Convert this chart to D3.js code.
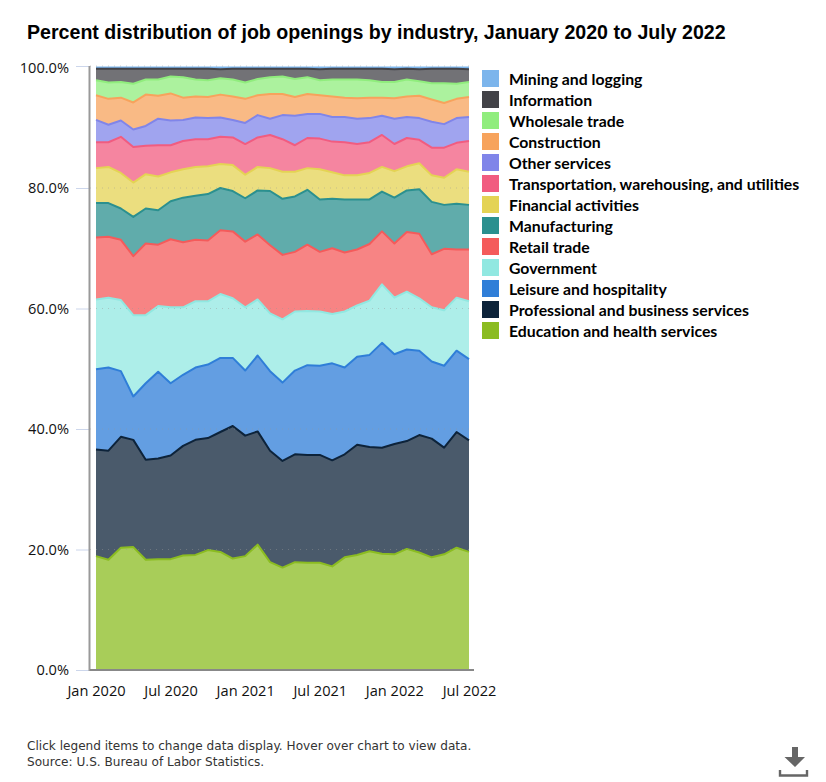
<!DOCTYPE html>
<html>
<head>
<meta charset="utf-8">
<title>Percent distribution of job openings by industry</title>
<script src="https://cdn.jsdelivr.net/npm/d3@7"></script>
<style type="text/css">
html, body{
	margin:0;
	background:#fff;
}
svg{
	display:block;
}
.title{
	font-family:"Liberation Sans", sans-serif;
	font-weight:bold;
	font-size:19.6px;
	fill:#000;
}
.tick text{
	font-family:"Open Sans", sans-serif;
	font-size:14.6px;
	fill:#111;
}
.legend text{
	font-family:Lato, sans-serif;
	font-weight:bold;
	font-size:15.8px;
	fill:#000;
}
.note{
	font-family:"DejaVu Sans", sans-serif;
	font-size:12.1px;
	fill:#333;
}
</style>
</head>
<body>
<div id="chart"></div>
<script type="text/javascript">
var months = ["Jan 2020","Feb 2020","Mar 2020","Apr 2020","May 2020","Jun 2020","Jul 2020","Aug 2020","Sep 2020","Oct 2020","Nov 2020","Dec 2020",
	"Jan 2021","Feb 2021","Mar 2021","Apr 2021","May 2021","Jun 2021","Jul 2021","Aug 2021","Sep 2021","Oct 2021","Nov 2021","Dec 2021",
	"Jan 2022","Feb 2022","Mar 2022","Apr 2022","May 2022","Jun 2022","Jul 2022"];
var xTicks = ["Jan 2020","Jul 2020","Jan 2021","Jul 2021","Jan 2022","Jul 2022"];
var yTicks = [0,20,40,60,80,100];

// legend order, top to bottom
var industries = ["Mining and logging","Information","Wholesale trade","Construction","Other services",
	"Transportation, warehousing, and utilities","Financial activities","Manufacturing","Retail trade",
	"Government","Leisure and hospitality","Professional and business services","Education and health services"];
var colors = ["#7cb5ec","#434348","#90ed7d","#f7a35c","#8085e9","#f15c80","#e4d354","#2b908f","#f45b5b","#91e8e1","#2f7ed8","#0d233a","#8bbc21"];

// percent of openings
var mining = [0.2,0.2,0.2,0.2,0.2,0.2,0.2,0.2,0.2,0.2,0.3,0.2,0.2,0.2,0.2,0.2,0.2,0.2,0.3,0.2,0.2,0.2,0.2,0.2,0.3,0.2,0.3,0.2,0.2,0.2,0.3];
var information = [1.9,2.3,2.2,2.5,1.8,1.8,1.3,1.4,1.8,1.9,1.5,1.8,2.3,1.7,1.4,1.3,1.7,1.4,1.8,1.8,1.8,1.8,1.9,2.2,2.1,1.8,2.0,2.4,2.4,2.5,2.1];
var wholesale = [2.5,2.7,2.6,3.1,2.5,2.7,2.8,3.4,2.8,2.8,2.7,2.8,2.7,2.7,2.8,2.9,3.0,2.8,2.5,2.8,3.0,3.1,2.9,2.6,2.7,2.8,2.4,2.7,3.3,2.5,2.5];
var construction = [4.1,4.3,3.8,4.5,5.2,3.8,4.5,3.7,3.5,3.5,3.8,3.9,4.0,3.3,4.1,3.5,3.1,3.3,3.1,3.4,3.2,3.4,3.4,3.0,3.4,3.4,3.7,3.7,3.5,3.2,3.3];
var otherServices = [3.7,2.9,2.7,2.9,3.3,4.4,4.1,3.5,3.6,3.5,3.2,2.9,3.5,3.7,2.7,4.0,4.9,4.0,4.1,4.1,4.2,4.2,4.0,3.2,4.2,3.5,3.6,4.3,3.9,4.1,4.0];
var transportation = [4.3,4.1,6.0,5.9,4.7,5.2,4.5,4.7,4.6,4.5,4.5,4.6,5.1,4.9,5.5,5.4,4.4,5.0,5.1,5.1,5.5,5.2,5.1,5.3,4.5,4.7,3.9,4.6,5.0,4.4,5.1];
var financial = [5.8,6.0,5.9,5.7,5.7,5.6,4.8,4.7,4.8,4.6,4.0,4.3,3.9,3.9,3.8,4.5,4.1,3.6,5.0,4.4,4.0,4.0,4.4,4.1,4.4,4.0,4.3,4.4,4.5,5.7,5.5];
var manufacturing = [5.7,5.6,5.2,6.5,5.8,5.7,6.3,7.4,7.3,7.7,7.0,6.7,7.2,7.3,9.0,9.3,9.2,9.1,8.7,8.2,8.8,8.3,7.4,6.6,7.6,6.9,7.4,8.7,7.3,7.6,7.4];
var retail = [10.3,10.1,10.0,9.8,11.9,10.2,11.3,10.8,10.2,10.1,10.6,11.1,10.9,10.8,11.3,10.7,9.9,11.0,9.9,10.9,9.8,9.3,9.4,8.8,9.0,9.9,10.7,8.8,10.2,8.0,8.6];
var government = [11.6,11.6,11.8,13.5,11.3,10.9,12.6,11.2,11.0,10.5,10.6,9.9,10.5,9.3,9.6,10.5,9.8,9.0,9.0,8.2,9.3,8.5,9.0,9.7,9.4,9.6,8.7,9.0,9.2,8.8,9.6];
var leisure = [13.3,13.8,10.9,7.2,12.7,14.4,12.0,11.8,12.0,12.2,12.3,11.3,10.8,12.6,13.2,13.0,13.9,14.9,14.8,16.1,14.4,14.6,15.3,17.4,14.9,15.2,14.0,12.8,13.6,13.5,13.5];
var professional = [17.7,18.1,18.4,17.8,16.6,16.7,17.2,18.2,19.1,18.6,19.9,22.0,20.0,18.8,18.5,17.7,17.9,17.9,17.9,17.6,17.1,18.3,17.3,17.6,18.3,17.9,19.5,19.7,17.7,19.2,18.5];
var education = [18.9,18.3,20.3,20.4,18.3,18.4,18.4,19.0,19.1,19.9,19.6,18.5,18.9,20.8,17.9,17.0,17.9,17.8,17.8,17.2,18.7,19.1,19.7,19.3,19.2,20.1,19.5,18.7,19.2,20.3,19.6];

var values = [mining,information,wholesale,construction,otherServices,transportation,financial,manufacturing,retail,government,leisure,professional,education];

var width = 826, height = 782;
var plotLeft = 90, plotRight = 474, plotTop = 66, plotBottom = 670;

var rows = months.map(function(m, i){
	var row = {month: m};
	industries.forEach(function(name, s){ row[name] = values[s][i]; });
	return row;
});

var x = d3.scalePoint().domain(months).range([96, 469]);
// the axis runs a hair past 100, the top tick and grid dots sit above the stack
var y = d3.scaleLinear().domain([0, 100.25]).range([plotBottom, plotTop]);
var colorOf = d3.scaleOrdinal().domain(industries).range(colors);

function gridY(d){
	return d === 100 ? plotTop : y(d);
}

var svg = d3.select("#chart").append("svg").attr("width", width).attr("height", height);

svg.append("text").attr("class", "title").attr("x", 27).attr("y", 39)
	.text("Percent distribution of job openings by industry, January 2020 to July 2022");

// stacked from the bottom of the legend upward
var stacked = d3.stack().keys(industries.slice().reverse())(rows);

var area = d3.area()
	.x(function(d){ return x(d.data.month); })
	.y0(function(d){ return y(d[0]); })
	.y1(function(d){ return y(d[1]); });
var topLine = d3.line()
	.x(function(d){ return x(d.data.month); })
	.y(function(d){ return y(d[1]); });

svg.append("g").selectAll("path").data(stacked).join("path")
	.attr("d", area)
	.attr("fill", function(d){ return colorOf(d.key); })
	.attr("fill-opacity", 0.75);

svg.append("g").selectAll("path").data(stacked.slice().reverse()).join("path")
	.attr("d", topLine)
	.attr("fill", "none")
	.attr("stroke", function(d){ return colorOf(d.key); })
	.attr("stroke-width", 2)
	.attr("stroke-linejoin", "round");

// dotted grid sits over the areas
svg.append("g").selectAll("line").data(yTicks.slice(1)).join("line")
	.attr("x1", plotLeft).attr("x2", plotRight)
	.attr("y1", gridY).attr("y2", gridY)
	.attr("stroke", "#999").attr("stroke-opacity", 0.45)
	.attr("stroke-dasharray", "1,5");

var yAxis = d3.axisLeft(y).tickValues(yTicks).tickSize(14).tickPadding(7)
	.tickFormat(function(d){ return d3.format(".1f")(d) + "%"; });
var gy = svg.append("g").attr("transform", "translate(" + plotLeft + ",0)").call(yAxis);
gy.select(".domain").remove();
gy.selectAll(".tick line").attr("stroke", "#ccd6eb")
	.attr("transform", function(d){ return "translate(0," + (gridY(d) - y(d)) + ")"; });

var xAxis = d3.axisBottom(x).tickValues(xTicks).tickSize(0).tickPadding(16);
var gx = svg.append("g").attr("transform", "translate(0," + plotBottom + ")").call(xAxis);
gx.select(".domain").remove();

svg.append("line").attr("x1", plotLeft - 0.5).attr("x2", plotLeft - 0.5)
	.attr("y1", plotTop).attr("y2", plotBottom + 1)
	.attr("stroke", "#999").attr("stroke-width", 2);
svg.append("line").attr("x1", plotLeft).attr("x2", plotRight)
	.attr("y1", plotBottom).attr("y2", plotBottom)
	.attr("stroke", "#888").attr("stroke-width", 2);

var legend = svg.append("g").attr("class", "legend").selectAll("g").data(industries).join("g")
	.attr("transform", function(d, i){ return "translate(482," + (70 + i * 21) + ")"; });
legend.append("rect").attr("width", 17).attr("height", 17)
	.attr("fill", function(d){ return colorOf(d); });
legend.append("text").attr("x", 27).attr("y", 15).text(function(d){ return d; });

svg.append("text").attr("class", "note").attr("x", 27).attr("y", 750)
	.text("Click legend items to change data display. Hover over chart to view data.");
svg.append("text").attr("class", "note").attr("x", 27).attr("y", 766)
	.text("Source: U.S. Bureau of Labor Statistics.");

// download icon
svg.append("path").attr("fill", "#666")
	.attr("d", "M792 747h6v10h7l-10 10l-10.500 -10h7.500z");
svg.append("path").attr("fill", "none").attr("stroke", "#666").attr("stroke-width", 2.4)
	.attr("d", "M780 770v5.500h27v-5.500");
</script>
</body>
</html>
